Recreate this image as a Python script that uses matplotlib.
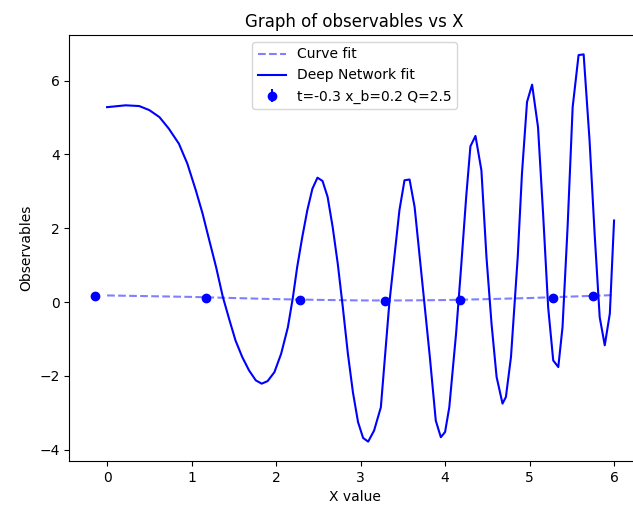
import matplotlib
matplotlib.use("Agg")
import matplotlib.pyplot as plt
import numpy as np

# data points (kinematics t=-0.3, x_b=0.2, Q=2.5)
pts_x = [-0.14, 1.17, 2.28, 3.29, 4.18, 5.28, 5.75]
pts_y = [0.155, 0.12, 0.055, 0.03, 0.055, 0.12, 0.155]
pts_err = [0.05, 0.05, 0.05, 0.05, 0.05, 0.05, 0.05]

# classic curve fit
cf_x = [0.0, 0.5, 1.0, 1.5, 2.0, 2.5, 3.0, 3.5, 4.0, 4.5, 5.0, 5.5, 6.0]
cf_y = [0.18, 0.16, 0.14, 0.11, 0.08, 0.06, 0.045, 0.045, 0.055, 0.08, 0.11, 0.15, 0.19]

# deep network fit
dnn_x = [0.0, 0.22, 0.38, 0.50, 0.62, 0.73, 0.85, 0.95, 1.05, 1.13, 1.21, 1.29,
         1.37, 1.45, 1.52, 1.60, 1.68, 1.76, 1.83, 1.90, 1.98, 2.06, 2.14, 2.20,
         2.25, 2.31, 2.37, 2.43, 2.49, 2.55, 2.61, 2.67, 2.73, 2.79, 2.85, 2.91,
         2.97, 3.03, 3.09, 3.16, 3.24, 3.34, 3.46, 3.52, 3.58, 3.64, 3.72, 3.82,
         3.89, 3.95, 4.00, 4.05, 4.13, 4.19, 4.25, 4.30, 4.36, 4.43, 4.49, 4.55,
         4.61, 4.68, 4.72, 4.78, 4.86, 4.91, 4.97, 5.03, 5.10, 5.16, 5.22, 5.28,
         5.34, 5.39, 5.45, 5.51, 5.58, 5.64, 5.71, 5.77, 5.83, 5.89, 5.95, 6.0]
dnn_y = [5.28, 5.33, 5.31, 5.20, 5.01, 4.70, 4.29, 3.75, 3.03, 2.40, 1.67, 0.95,
         0.14, -0.50, -1.04, -1.49, -1.85, -2.12, -2.21, -2.14, -1.90, -1.40, -0.68, 0.14,
         0.95, 1.76, 2.49, 3.07, 3.37, 3.28, 2.85, 2.03, 1.04, -0.14, -1.40, -2.45,
         -3.25, -3.68, -3.78, -3.48, -2.85, -0.04, 2.49, 3.30, 3.32, 2.57, 0.77, -1.49,
         -3.21, -3.66, -3.52, -2.85, -0.86, 0.95, 2.85, 4.22, 4.50, 3.57, 1.22, -0.59,
         -2.03, -2.75, -2.57, -1.49, 1.22, 3.48, 5.42, 5.89, 4.74, 2.40, -0.14, -1.58,
         -1.76, -0.68, 2.03, 5.28, 6.69, 6.71, 4.38, 1.85, -0.41, -1.17, -0.31, 2.21]

fig = plt.figure(figsize=(6.33, 5.13), dpi=100)
ax = fig.add_axes([69.3/633, (513-461)/513, (640-69.3)/633, (461-35)/513])

ax.plot(cf_x, cf_y, 'b--', alpha=0.5, label='Curve fit')
ax.plot(dnn_x, dnn_y, 'b-', label='Deep Network fit')
ax.errorbar(pts_x, pts_y, yerr=pts_err, fmt='bo', label='t=-0.3 x_b=0.2 Q=2.5')

ax.set_title('Graph of observables vs X')
ax.set_xlabel('X value')
ax.set_ylabel('Observables')
ax.legend(loc='upper center')

fig.savefig('out.png', dpi=100)
